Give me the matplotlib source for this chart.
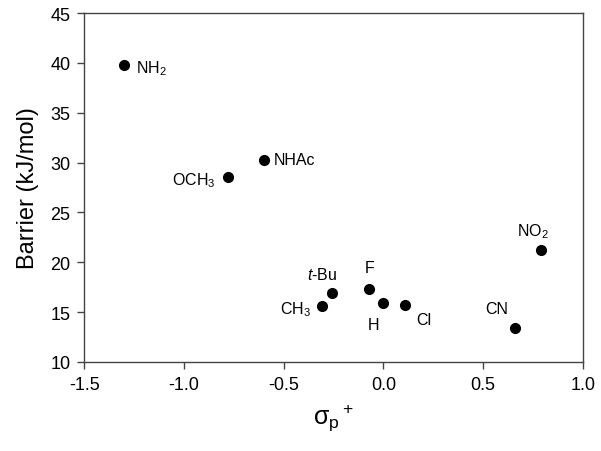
import matplotlib
matplotlib.use("Agg")
import matplotlib.pyplot as plt

plt.rcParams["font.family"] = ["Liberation Sans", "DejaVu Sans"]
plt.rcParams["mathtext.fontset"] = "custom"
plt.rcParams["mathtext.rm"] = "Liberation Sans"
plt.rcParams["mathtext.it"] = "Liberation Sans:italic"

# substituent, sigma_p+, barrier (kJ/mol)
labels = [r"NH$_2$", "NHAc", r"OCH$_3$", r"$\it{t}$-Bu", r"CH$_3$",
          "F", "H", "Cl", "CN", r"NO$_2$"]
sigma = [-1.30, -0.60, -0.78, -0.26, -0.31, -0.07, 0.00, 0.11, 0.66, 0.79]
barrier = [39.8, 30.3, 28.6, 16.9, 15.6, 17.3, 15.9, 15.7, 13.4, 21.2]

# label offsets (pixels) and alignment
offsets = [(12, -3, "left"), (10, 0, "left"), (-12, -3, "right"), (-9, 19, "center"),
           (-11, -3, "right"), (0, 22, "center"), (-10, -21, "center"),
           (11, -14, "left"), (-18, 20, "center"), (-8, 20, "center")]

fig = plt.figure(figsize=(6.01, 4.52), dpi=100)
ax = fig.add_axes([0.14, 0.197, 0.83, 0.772])

ax.plot(sigma, barrier, "o", color="black", markersize=7, linestyle="none")
for lab, x, y, (dx, dy, ha) in zip(labels, sigma, barrier, offsets):
    ax.annotate(lab, (x, y), xytext=(dx, dy), textcoords="offset pixels",
                ha=ha, va="center", fontsize=11.5)

ax.set_xlim(-1.5, 1.0)
ax.set_ylim(10, 45)
ax.set_xticks([-1.5, -1.0, -0.5, 0.0, 0.5, 1.0])
ax.set_xticklabels(["-1.5", "-1.0", "-0.5", "0.0", "0.5", "1.0"])
ax.set_yticks(range(10, 46, 5))
for s in ax.spines.values():
    s.set_color("#444444")
    s.set_linewidth(1.0)
ax.tick_params(direction="out", length=5, width=1.0, color="#444444",
               labelsize=13, pad=5)

ax.set_xlabel(r"$\mathregular{σ_p{}^+}$", fontsize=18, labelpad=6)
ax.set_ylabel("Barrier (kJ/mol)", fontsize=17, labelpad=8)

fig.savefig("out.png", dpi=100)
